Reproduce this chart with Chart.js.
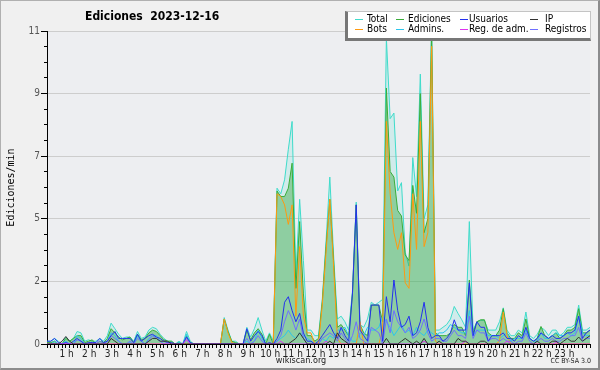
<!DOCTYPE html>
<html><head><meta charset="utf-8">
<script src="https://cdn.jsdelivr.net/npm/chart.js@4.4.1/dist/chart.umd.min.js"></script>
<style>
html,body{margin:0;padding:0;background:#f0f0f0;}
#frame{position:relative;width:600px;height:370px;background:#f0f0f0;overflow:hidden;font-family:"DejaVu Sans Condensed","DejaVu Sans",sans-serif;font-stretch:condensed;}
#c{position:absolute;left:0;top:0;}
#border{position:absolute;left:0;top:0;width:600px;height:370px;box-sizing:border-box;border:1px solid #b0b0b0;border-right:2px solid #8c8c8c;border-bottom:2px solid #8c8c8c;pointer-events:none;}
#title{position:absolute;left:85px;top:9px;font-weight:bold;font-size:12px;line-height:14px;color:#000;white-space:pre;}
#legend{position:absolute;left:345px;top:11px;width:246px;height:30px;box-sizing:border-box;background:#fff;border-top:1px solid #c4c4c4;border-right:1px solid #c4c4c4;border-left:3px solid #777;border-bottom:3px solid #777;}
#legend .s{position:absolute;height:1px;width:8px;}
#legend .t{position:absolute;font-size:10px;line-height:10px;color:#000;white-space:nowrap;}
#foot1{position:absolute;left:251px;width:100px;top:355px;text-align:center;font-size:9px;line-height:10px;color:#222;}
#foot2{position:absolute;right:9px;top:357px;font-size:7px;line-height:8px;color:#222;}
</style></head>
<body>
<div id="frame">
<canvas id="c" width="600" height="370"></canvas>
<div id="title">Ediciones  2023-12-16</div>
<div id="legend"></div>
<div id="foot1">wikiscan.org</div>
<div id="foot2">CC BY-SA 3.0</div>
<div id="border"></div>
</div>
<script>
// ---- data: one value per 10 minutes, 00:00 .. 24:00 ----
const HOURS = ["1 h","2 h","3 h","4 h","5 h","6 h","7 h","8 h","9 h","10 h","11 h","12 h","13 h","14 h","15 h","16 h","17 h","18 h","19 h","20 h","21 h","22 h","23 h"];
const Y_TICKS = [0, 2, 5, 7, 9, 11];

const total = [
 0.1,0.1,0.2,0.1,0,0.25,0.1,0.2,0.45,0.4,0.1,0.15,
 0.1,0.1,0.2,0.1,0.3,0.75,0.55,0.35,0.2,0.25,0.25,0.1,
 0.45,0.2,0.25,0.5,0.6,0.55,0.35,0.2,0.1,0.1,0,0.1,
 0,0.45,0.1,0,0,0,0,0,0,0,0,0.95,
 0.5,0.1,0.1,0,0,0.6,0.25,0.55,0.95,0.5,0.1,0.4,
 0.1,5.6,5.4,5.9,7.0,8.0,2.5,5.2,3.0,0.5,0.5,0.3,
 0.3,1.6,3.7,6.0,3.2,0.9,1.0,0.8,0.5,1.9,5.1,0.7,
 0.6,0.9,1.5,1.4,1.5,1.6,11.0,8.1,8.3,5.5,5.8,3.3,
 2.8,6.7,5.3,9.7,4.5,5.0,11.5,0.5,0.5,0.6,0.7,0.9,
 1.35,1.1,0.87,0.6,4.4,0.5,0.8,0.85,0.85,0.5,0.5,0.5,
 0.8,1.3,0.5,0.3,0.3,0.5,0.4,1.15,0.3,0.2,0.35,0.6,
 0.5,0.3,0.5,0.5,0.3,0.4,0.6,0.6,0.7,1.4,0.5,0.5,0.6];
const ediciones = [
 0.05,0.05,0.1,0,0,0.2,0.1,0.2,0.3,0.3,0.05,0.1,
 0.15,0,0.1,0.05,0.2,0.55,0.4,0.25,0.15,0.2,0.25,0.05,
 0.35,0.15,0.2,0.4,0.5,0.45,0.3,0.15,0.1,0.1,0,0.05,
 0,0.3,0.05,0,0,0,0,0,0,0,0,0.9,
 0.45,0.1,0.05,0,0,0.5,0.15,0.4,0.55,0.35,0,0.35,
 0,5.5,5.3,5.3,5.6,6.5,2.0,4.4,1.8,0.3,0.3,0.1,
 0.2,1.5,3.5,5.2,3.0,0.6,0.7,0.5,0.3,1.8,5.0,0.7,
 0.4,0.3,1.4,1.4,1.4,0.8,9.2,6.2,6.0,4.8,4.6,3.2,
 3.0,5.7,4.7,9.0,4.0,4.5,11.3,0.4,0.3,0.3,0.3,0.4,
 0.7,0.6,0.6,0.3,2.3,0.4,0.8,0.87,0.87,0.4,0.3,0.3,
 0.5,1.27,0.4,0.2,0.2,0.4,0.3,0.9,0.2,0.1,0.2,0.63,
 0.3,0.2,0.3,0.4,0.2,0.3,0.5,0.5,0.6,1.27,0.4,0.4,0.5];
const bots = [
 0,0,0,0,0,0,0,0,0,0,0,0,
 0,0,0,0,0,0,0,0,0,0,0,0,
 0,0,0,0,0,0,0,0,0,0,0,0,
 0,0,0,0,0,0,0,0,0,0,0,0.9,
 0.4,0.05,0,0,0,0,0,0,0,0,0,0,
 0,5.4,5.3,5.0,4.3,5.0,1.0,3.5,1.0,0.4,0.4,0,
 0,1.4,3.3,5.2,2.8,0.2,0,0,0,0,0,0.8,
 0,0,0,0,0,0.5,8.0,5.4,4.0,3.4,4.0,2.2,
 2.0,5.4,3.4,8.0,3.5,4.0,10.7,0.1,0,0,0,0,
 0,0,0,0,0,0,0,0,0,0,0,0,
 0.1,1.15,0.3,0,0,0,0,0,0,0,0,0,
 0,0,0,0,0,0,0,0,0,0,0,0,0];
const usuarios = [
 0.1,0.1,0.2,0.05,0,0.05,0,0.1,0.2,0.1,0,0.05,
 0.05,0.05,0.2,0.05,0.1,0.3,0.45,0.2,0.2,0.2,0.2,0.05,
 0.35,0.1,0.2,0.3,0.35,0.25,0.2,0.1,0.05,0.05,0,0,
 0,0.25,0.05,0,0,0,0,0,0,0,0,0,
 0,0,0,0,0,0.55,0.1,0.3,0.45,0.3,0,0.05,
 0,0.2,0.5,1.5,1.7,1.2,0.8,1.1,0.4,0.1,0.1,0,
 0.1,0.3,0.5,0.7,0.4,0.2,0.6,0.3,0.1,1.8,5.0,0.5,
 0.3,0.1,1.4,1.4,1.4,0.1,1.7,0.8,2.3,1.2,0.6,0.7,
 1.0,0.3,0.4,0.8,1.5,0.6,0.2,0.3,0.3,0.1,0.2,0.4,
 0.87,0.5,0.5,0.5,2.2,0.3,0.8,0.6,0.6,0.1,0.3,0.3,
 0.3,0.4,0.2,0.2,0.1,0.3,0.2,0.6,0.2,0.1,0.2,0.4,
 0.3,0.2,0.3,0.2,0.2,0.3,0.4,0.4,0.5,1.0,0.2,0.4,0.5];
const ip = [
 0,0,0,0,0.1,0.27,0.1,0,0,0,0,0,
 0,0,0,0,0,0.2,0.1,0,0,0,0,0,
 0,0,0,0.1,0.2,0.2,0.1,0.1,0.1,0,0,0,
 0,0,0,0,0,0,0,0,0,0,0,0,
 0,0,0,0,0,0,0,0,0,0,0,0,
 0,0,0,0,0,0.1,0.2,0.4,0.2,0,0,0,
 0,0,0,0.1,0,0.4,0.2,0.1,0,0,0,0,
 0,0,0,0,0,0,0.2,0,0,0,0.1,0.2,
 0.1,0,0.1,0,0.2,0,0,0,0.1,0,0,0,
 0,0.2,0.1,0.1,0,0,0,0.1,0.1,0,0,0,
 0,0,0,0,0,0,0,0,0,0,0.1,0,
 0,0,0.1,0.1,0,0.1,0.2,0.1,0.1,0.25,0.1,0.2,0.3];
const admins = [
 0,0,0.1,0,0,0.1,0,0,0.3,0.2,0,0,
 0,0,0,0,0.1,0.4,0.3,0.1,0,0,0.05,0,
 0.3,0.1,0,0.2,0.3,0.3,0.1,0,0,0,0,0.05,
 0,0.35,0,0,0,0,0,0,0,0,0,0,
 0,0,0,0,0,0.1,0,0.1,0.5,0.2,0,0,
 0,0.1,0.2,0.3,0.5,0.3,0.2,0.4,0.3,0.2,0.1,0,
 0,0.2,0.1,0.3,0.2,0.5,0.5,0.6,0.3,0.1,0.1,0.4,
 0.3,0.6,0.5,0.5,0.6,1.0,0.8,0.6,0.3,0.5,0.7,0.4,
 0.5,0.3,0.6,0.4,0.3,0.5,0.4,0.3,0.4,0.4,0.5,0.7,
 0.6,0.5,0.4,0.4,1.2,0.3,0.5,0.5,0.5,0.3,0.3,0.3,
 0.2,0.3,0.4,0.1,0.2,0.2,0.2,0.5,0.2,0.1,0.1,0.4,
 0.2,0.2,0.3,0.4,0.3,0.3,0.4,0.3,0.4,1.0,0.4,0.3,0.3];
const regAdm = [
 0,0,0,0,0,0,0,0,0,0,0,0,
 0,0,0,0,0,0,0,0,0,0,0,0,
 0,0,0,0,0,0,0,0,0,0,0,0,
 0,0.15,0,0,0,0,0,0,0,0,0,0,
 0,0,0,0,0,0,0,0,0,0,0,0,
 0,0,0.1,0,0,0,0,0,0,0,0,0,
 0,0,0.1,0,0,0,0,0,0,0,0,0,
 0,0,0,0,0,0,0,0,0,0,0,0,
 0,0,0,0,0.1,0,0,0,0,0,0,0,
 0,0,0,0.1,0,0,0,0,0,0,0,0,
 0,0,0.1,0,0,0,0,0,0,0,0,0,
 0,0,0,0.05,0,0,0,0,0,0,0,0,0];
const registros = [
 0,0,0,0,0,0.05,0,0,0.15,0.1,0,0,
 0,0,0.1,0,0.1,0.3,0.2,0.1,0,0,0.1,0,
 0.2,0.1,0,0.15,0.3,0.2,0.1,0,0,0,0,0,
 0,0.25,0,0,0,0,0,0,0,0,0,0,
 0,0,0,0,0,0.2,0,0.1,0.3,0.1,0,0,
 0,0.1,0.3,0.8,1.2,0.9,0.5,0.9,0.2,0,0,0,
 0,0.2,0.3,0.4,0.3,0.1,0.4,0.2,0,0.3,0.8,0.2,
 0.1,0,0.6,0.5,0.4,0,0.9,0.4,1.2,0.8,0.6,0.4,
 0.6,0.2,0.3,0.5,0.9,0.4,0.1,0.2,0.2,0.1,0.1,0.3,
 0.5,0.3,0.3,0.2,1.0,0.2,0.5,0.4,0.4,0.1,0.2,0.2,
 0.1,0.2,0.1,0.1,0,0.1,0.1,0.4,0.1,0,0.1,0.2,
 0.1,0.1,0.2,0.1,0.1,0.2,0.2,0.3,0.3,0.6,0.1,0.2,0.2];

const SERIES = [
 {name:"Total", data:total, color:"#3fdccb", fill:"rgba(64,224,208,0.16)", order:8, col:0, row:0},
 {name:"Ediciones", data:ediciones, color:"#3aae3a", fill:"rgba(51,168,60,0.42)", order:7, col:1, row:0},
 {name:"Usuarios", data:usuarios, color:"#2430ee", fill:null, order:3, col:2, row:0},
 {name:"IP", data:ip, color:"#333333", fill:null, order:1, col:3, row:0},
 {name:"Bots", data:bots, color:"#ff9a10", fill:null, order:5, col:0, row:1},
 {name:"Admins.", data:admins, color:"#2cc6ec", fill:null, order:6, col:1, row:1},
 {name:"Reg. de adm.", data:regAdm, color:"#dd33ee", fill:null, order:2, col:2, row:1},
 {name:"Registros", data:registros, color:"#6f6fff", fill:null, order:4, col:3, row:1}
];

// legend (HTML)
const LEG_SAMPLE_X = [7, 48, 112, 182];
const LEG_TEXT_X = [19, 60, 121, 197];
const leg = document.getElementById('legend');
SERIES.forEach(s => {
  const sw = document.createElement('div'); sw.className = 's';
  sw.style.left = LEG_SAMPLE_X[s.col] + 'px'; sw.style.top = (7 + s.row*10) + 'px'; sw.style.background = s.color;
  const t = document.createElement('div'); t.className = 't';
  t.style.left = LEG_TEXT_X[s.col] + 'px'; t.style.top = (2 + s.row*10) + 'px'; t.textContent = s.name;
  leg.appendChild(sw); leg.appendChild(t);
});

const FONT = '"DejaVu Sans Condensed", "DejaVu Sans", sans-serif';
const plotBg = {
  id:'plotBg',
  beforeDraw(chart){
    const {ctx, chartArea:a} = chart;
    ctx.save(); ctx.fillStyle = '#edeef1'; ctx.fillRect(a.left, a.top, a.right-a.left, a.bottom-a.top); ctx.restore();
  }
};

new Chart(document.getElementById('c'), {
  type:'line',
  data:{datasets: SERIES.map(s => ({
    label:s.name,
    data:s.data.map((v,i)=>({x:i, y:v})),
    borderColor:s.color, borderWidth:1,
    backgroundColor:s.fill || s.color,
    fill: s.fill ? 'origin' : false,
    order:s.order, pointRadius:0, tension:0
  }))},
  options:{
    responsive:false, animation:false,
    layout:{padding:{top:31, right:10, bottom:12, left:0}},
    plugins:{legend:{display:false}, tooltip:{enabled:false}, title:{display:false}},
    scales:{
      x:{type:'linear', min:0, max:144,
         ticks:{stepSize:1, autoSkip:false, maxRotation:0, minRotation:0, padding:0, labelOffset:-3,
                color:'#222', font:{family:FONT, size:10},
                callback:(v)=>{ const r=Math.round(v); return (r%6===0 && r>0 && r<144) ? HOURS[r/6-1] : ''; }},
         grid:{drawOnChartArea:false, tickLength:4, tickColor:'#000', tickWidth:1},
         border:{color:'#000', width:1},
         afterFit:(s)=>{ s.height = 14; }},
      y:{min:0, max:11.25, weight:1, position:'left',
         ticks:{stepSize:2.25, padding:1, color:'#555', font:{family:FONT, size:10},
                callback:(v, i)=> Y_TICKS[i]},
         grid:{color:'#cdcdcd', tickColor:'#000', tickLength:6, lineWidth:1},
         border:{color:'#000', width:1},
         title:{display:true, text:'Ediciones/min', color:'#000', font:{family:'"DejaVu Sans Mono", monospace', size:10}, padding:{top:5, bottom:0}},
         afterFit:(s)=>{ s.width = 47; }},
      yMinor:{min:0, max:11.25, weight:0, position:'left',
         ticks:{stepSize:0.5625, display:false},
         grid:{drawOnChartArea:false, tickColor:'#000', tickLength:3},
         border:{display:false},
         afterFit:(s)=>{ s.width = 0; }}
    }
  },
  plugins:[plotBg]
});
</script>
</body></html>
